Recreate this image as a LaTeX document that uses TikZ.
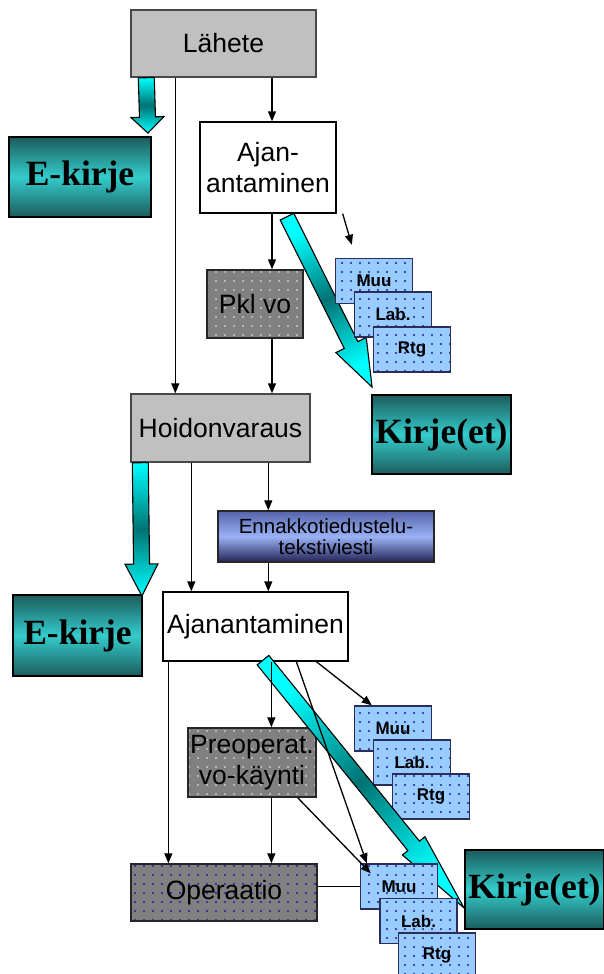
\documentclass[tikz,border=0pt]{standalone}
\usepackage{fontspec}
\setmainfont{Liberation Sans}
\newfontfamily\kirjefont{Liberation Serif}
\usepackage{tikz}
\usetikzlibrary{arrows.meta, calc, patterns.meta}
\definecolor{boxgray}{RGB}{192,192,192}
\definecolor{edgegray}{RGB}{72,72,72}
\definecolor{dotgray}{RGB}{128,128,128}
\definecolor{dotlight}{RGB}{200,200,200}
\definecolor{dotnavy}{RGB}{30,30,160}
\definecolor{tealdark}{RGB}{28,92,92}
\definecolor{teallight}{RGB}{52,204,204}
\definecolor{arrcyan}{RGB}{0,255,255}
\definecolor{arrteal}{RGB}{0,115,115}
\definecolor{noteblue}{RGB}{153,204,255}
\definecolor{noteedge}{RGB}{45,45,90}
\definecolor{smstop}{RGB}{85,100,170}
\definecolor{smsmid}{RGB}{155,178,245}
\definecolor{smsbot}{RGB}{35,35,85}

\tikzdeclarepattern{
  name=sparsedots,
  type=uncolored,
  bottom left={(-1.5pt,-1.5pt)},
  top right={(7.5pt,7.5pt)},
  tile size={(9pt,9pt)},
  code={\fill (0pt,0pt) circle (1.05pt);}
}

% tail, tip, shaft half width, head half width, head length, shading angle
\newcommand{\blockarrow}[6]{%
  \coordinate (headbase) at ($(#2)!#5!(#1)$);
  \path[blockarr, shading angle=#6]
    ($(#1)!#3!90:(#2)$) -- ($(headbase)!#3!90:(#2)$) -- ($(headbase)!#4!90:(#2)$)
    -- (#2) -- ($(headbase)!#4!-90:(#2)$) -- ($(headbase)!#3!-90:(#2)$)
    -- ($(#1)!#3!-90:(#2)$) -- cycle;
}

\begin{document}
\begin{tikzpicture}[x=1pt, y=-1pt,
          gbox/.style={draw=edgegray, line width=1.4pt, fill=boxgray, inner sep=0pt,
                       font=\fontsize{26.5}{31}\selectfont, align=center},
          wbox/.style={draw, line width=1.3pt, fill=white, inner sep=0pt,
                       font=\fontsize{26.5}{31}\selectfont, align=center},
          dbox/.style={draw=black!85, line width=1.4pt, preaction={fill=dotgray},
                       pattern=sparsedots, pattern color=#1, inner sep=0pt,
                       font=\fontsize{26.5}{31}\selectfont, align=center},
          kbox/.style={draw, line width=1.9pt, top color=tealdark, bottom color=tealdark,
                       middle color=teallight, inner sep=0pt,
                       font=\kirjefont\bfseries\fontsize{35.5}{40}\selectfont},
          smsbox/.style={draw=black!85, line width=1.4pt, top color=smstop, bottom color=smsbot,
                       middle color=smsmid, inner sep=0pt, align=center,
                       font=\fontsize{20.5}{21.5}\selectfont},
          tbox/.style={draw=noteedge, line width=1.4pt, preaction={fill=noteblue},
                       pattern=sparsedots, pattern color=dotnavy, inner sep=0pt,
                       minimum width=77pt, minimum height=45pt,
                       font=\bfseries\fontsize{17}{20}\selectfont},
          blockarr/.style={draw, line width=1.1pt, top color=arrcyan, bottom color=arrcyan,
                       middle color=arrteal},
          arr/.style={-{Triangle[length=10pt,width=8pt]}, line width=1.3pt}
        ]
        \useasboundingbox (0,0) rectangle (603,974);

        \node[gbox, minimum width=185pt, minimum height=67pt] (lahete) at (223.5,43.5) {Lähete};
        \node[kbox, minimum width=142pt, minimum height=80pt] (ekirje1) at (80,177) {E-kirje};
        \node[wbox, minimum width=136pt, minimum height=91pt] (ajan1) at (268,167.5) {Ajan-\\antaminen};
        \node[dbox=dotlight, minimum width=96pt, minimum height=68pt] (pkl) at (255,304) {Pkl vo};
        \node[kbox, minimum width=139pt, minimum height=79pt] (kirje1) at (441.5,434.5) {Kirje(et)};
        \node[gbox, minimum width=179pt, minimum height=68pt] (hoidon) at (220.5,428) {Hoidonvaraus};
        \node[smsbox, minimum width=216pt, minimum height=51pt] (ennakko) at (326,536.5)
              {Ennakkotiedustelu-\\tekstiviesti};
        \node[wbox, minimum width=185pt, minimum height=69pt] (ajan2) at (255.5,626.5) {Ajanantaminen};
        \node[kbox, minimum width=129pt, minimum height=81pt] (ekirje2) at (77.5,635.5) {E-kirje};
        \node[dbox=dotlight, minimum width=128pt, minimum height=69pt] (preop) at (252,762.5)
              {Preoperat.\\vo-käynti};
        \node[dbox=dotnavy, minimum width=186pt, minimum height=57pt] (opera) at (224,892.5) {Operaatio};
        \node[kbox, minimum width=139pt, minimum height=79pt] (kirje2) at (534.5,889.5) {Kirje(et)};

        % letter arrows
        \coordinate (t1) at ($(lahete.south west)+(16,0)$);
        \coordinate (h1) at ($(ekirje1.north east)+(-4,-3)$);
        \blockarrow{t1}{h1}{8pt}{16.5pt}{16pt}{0}
        \coordinate (t2) at ($(hoidon.south west)+(10,0)$);
        \coordinate (h2) at ($(ekirje2.north east)+(-1,2)$);
        \blockarrow{t2}{h2}{8pt}{16.5pt}{32pt}{0}
        \coordinate (t3) at ($(ajan1.south)+(19,3)$);
        \coordinate (h3) at ($(kirje1.north west)+(1,-7)$);
        \blockarrow{t3}{h3}{7.6pt}{17pt}{47pt}{26}

        \node[tbox] (muu1) at (374,281) {Muu};
        \node[tbox] (lab1) at (393,314.5) {Lab.};
        \node[tbox] (rtg1) at (412,349.5) {Rtg};
        \node[tbox] (muu2) at (393,728.5) {Muu};
        \node[tbox] (lab2) at (412,762.5) {Lab.};
        \node[tbox] (rtg2) at (431,796.5) {Rtg};

        \coordinate (t4) at ($(ajan2.south)+(7.5,-1.5)$);
        \coordinate (h4) at ($(kirje2.south west)+(0,-22)$);
        \blockarrow{t4}{h4}{7.5pt}{14.5pt}{80pt}{39}

        \node[tbox] (muu3) at (399,886.5) {Muu};
        \node[tbox] (lab3) at (418.5,921) {Lab.};
        \node[tbox] (rtg3) at (437,955.5) {Rtg};

        % flow lines
        \coordinate (c1) at ($(lahete.south west)+(45,0)$);
        \draw[arr] (c1) -- (c1 |- hoidon.north);
        \coordinate (c2) at ($(ajan1.north)+(4,0)$);
        \draw[arr] (c2 |- lahete.south) -- (c2);
        \draw[arr] (c2 |- ajan1.south) -- (c2 |- pkl.north);
        \draw[arr] (c2 |- pkl.south) -- (c2 |- hoidon.north);
        \coordinate (c3) at ($(ajan1.south east)+(6,0)$);
        \coordinate (c4) at ($(muu1.north west)+(17,-13)$);
        \draw[arr] (c3) -- (c4);
        \coordinate (c5) at ($(hoidon.south west)+(61,0)$);
        \draw[arr] (c5) -- (c5 |- ajan2.north);
        \coordinate (c6) at ($(hoidon.south west)+(138,0)$);
        \draw[arr] (c6) -- (c6 |- ennakko.north);
        \draw[arr] (c6 |- ennakko.south) -- (c6 |- ajan2.north);
        \coordinate (c7) at ($(ajan2.south west)+(6,0)$);
        \draw[arr] (c7) -- (c7 |- opera.north);
        \coordinate (c8) at ($(ajan2.south west)+(109,0)$);
        \draw[arr] (c8) -- (c8 |- preop.north);
        \draw[arr] (c8 |- preop.south) -- (c8 |- opera.north);
        \coordinate (c9) at ($(ajan2.south west)+(134,0)$);
        \draw[arr] (c9) -- ($(muu3.north west)+(7,0)$);
        \coordinate (c10) at ($(ajan2.south west)+(154,0)$);
        \draw[arr] (c10) -- ($(muu2.north west)+(18,0)$);
        \coordinate (c11) at ($(preop.south east)+(-19,0)$);
        \draw[arr] (c11) -- ($(muu3.north west)+(11,10)$);
        \draw[line width=1.3pt] (muu3.west -| opera.east) -- (muu3.west);
      \end{tikzpicture}
\end{document}
